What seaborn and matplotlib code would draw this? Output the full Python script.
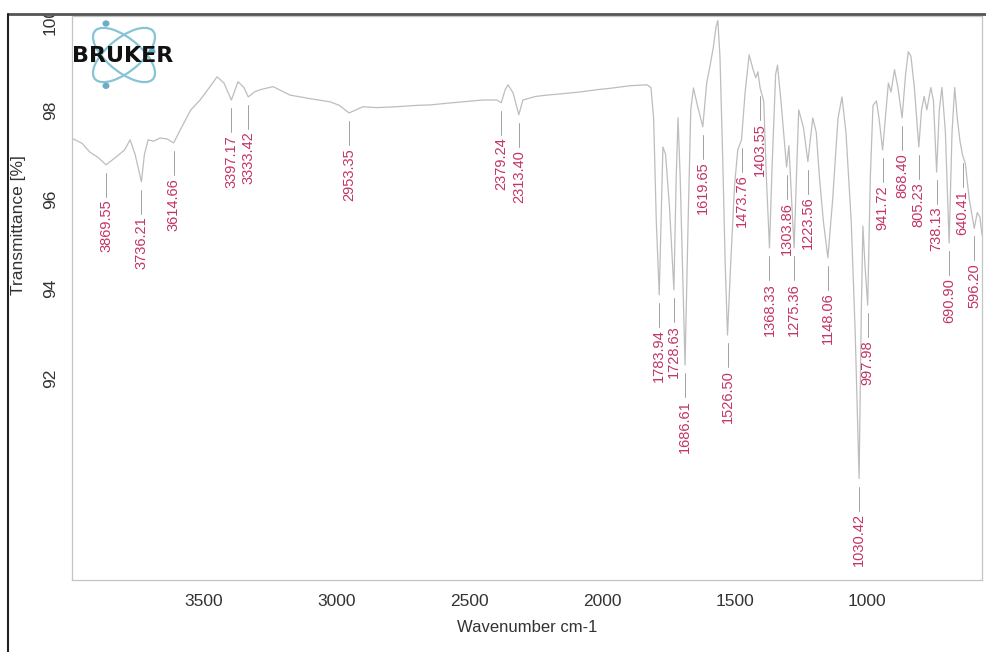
import numpy as np
import matplotlib
matplotlib.use("Agg")
import matplotlib.pyplot as plt
from matplotlib.patches import Ellipse, Rectangle, Circle
from matplotlib.lines import Line2D
import seaborn as sns

LINE_COLOUR = '#bdbdbd'
PEAK_COLOUR = '#c23468'
TEXT_COLOUR = '#333333'

# spectrum points (cm-1, % T)
wavenumber = [
    4000, 3960, 3930, 3903, 3869.55, 3835, 3800, 3779, 3760, 3736.21, 3725, 3711,
    3690, 3666, 3640, 3614.66, 3590, 3550, 3515, 3480, 3451, 3425, 3397.17, 3372,
    3350, 3333.42, 3310, 3289, 3240, 3176, 3100, 3025, 2990, 2953.35, 2920, 2901,
    2850, 2773, 2700, 2648, 2580, 2524, 2450, 2396, 2379.24, 2365, 2354, 2335,
    2313.40, 2298, 2250, 2207, 2150, 2083, 2020, 1958, 1894, 1830, 1815, 1805,
    1795, 1783.94, 1775, 1770, 1760, 1745, 1728.63, 1720, 1713, 1705, 1686.61, 1675,
    1665, 1655, 1640, 1619.65, 1605, 1595, 1580, 1570, 1563, 1555, 1545, 1535,
    1526.50, 1515, 1500, 1488, 1473.76, 1460, 1445, 1430, 1420, 1412, 1403.55, 1390,
    1380, 1368.33, 1358, 1345, 1338, 1325, 1303.86, 1295, 1285, 1275.36, 1265, 1258,
    1240, 1223.56, 1205, 1192, 1180, 1165, 1148.06, 1130, 1110, 1095, 1080, 1060,
    1045, 1030.42, 1022, 1016, 1008, 997.98, 988, 978, 965, 955, 941.72, 930,
    920, 910, 897, 884, 868.40, 855, 845, 835, 822, 805.23, 795, 785,
    775, 760, 750, 738.13, 728, 718, 705, 690.90, 680, 670, 660, 650,
    640.41, 630, 615, 596.20, 585, 575, 567,
]
transmittance = [
    97.37, 97.25, 97.05, 96.95, 96.77, 96.93, 97.1, 97.33, 97.0, 96.39, 97.0, 97.33,
    97.3, 97.37, 97.35, 97.26, 97.55, 98.0, 98.22, 98.5, 98.74, 98.6, 98.22, 98.63,
    98.5, 98.29, 98.4, 98.45, 98.52, 98.33, 98.25, 98.18, 98.1, 97.93, 98.02, 98.07,
    98.05, 98.07, 98.1, 98.11, 98.15, 98.18, 98.22, 98.22, 98.16, 98.45, 98.56, 98.38,
    97.89, 98.22, 98.3, 98.33, 98.36, 98.4, 98.45, 98.49, 98.54, 98.56, 98.5, 97.8,
    95.5, 93.86, 96.0, 97.17, 97.0, 95.8, 93.97, 96.5, 97.82, 96.5, 92.29, 95.5,
    98.0, 98.49, 98.1, 97.62, 98.6, 98.9, 99.4, 99.85, 100.0, 99.2, 97.0, 94.5,
    92.96, 94.5, 96.3, 97.1, 97.33, 98.4, 99.23, 98.9, 98.72, 98.85, 98.49, 98.2,
    96.5, 94.91, 96.8, 98.8, 99.0, 98.2, 96.72, 97.2, 96.0, 94.91, 96.8, 98.0,
    97.6, 96.84, 97.82, 97.5, 96.5, 95.5, 94.69, 96.0, 97.8, 98.29, 97.5, 95.5,
    93.0, 89.75, 93.5, 95.4, 94.5, 93.63, 96.5, 98.1, 98.2, 97.8, 97.1, 97.9,
    98.6, 98.4, 98.9, 98.5, 97.82, 98.8, 99.3, 99.2, 98.5, 97.17, 98.0, 98.3,
    98.0, 98.5, 98.2, 96.61, 98.0, 98.5, 97.5, 95.02, 97.5, 98.5, 97.8, 97.3,
    96.99, 96.8, 96.0, 95.35, 95.7, 95.6, 95.2,
]

peak_wn = [3869.55, 3736.21, 3614.66, 3397.17, 3333.42, 2953.35, 2379.24, 2313.40,
           1783.94, 1728.63, 1686.61, 1619.65, 1526.50, 1473.76, 1403.55, 1368.33,
           1303.86, 1275.36, 1223.56, 1148.06, 1030.42, 997.98, 941.72, 868.40,
           805.23, 738.13, 690.90, 640.41, 596.20]

x_ticks = [3500, 3000, 2500, 2000, 1500, 1000]
y_ticks = [92, 94, 96, 98, 100]

sns.set_theme(style="white")
plt.rcParams['font.family'] = ['Liberation Sans', 'DejaVu Sans']

W, H = 986, 652
fig = plt.figure(figsize=(W / 100, H / 100), dpi=100)
ax = fig.add_axes([72 / W, 72 / H, 910 / W, 564 / H])

sns.lineplot(x=wavenumber, y=transmittance, ax=ax, color=LINE_COLOUR,
             linewidth=0.9, estimator=None, sort=False)

ax.set_xlim(3998, 567)
ax.set_ylim(87.48, 100.1)

# peak labels hang below each minimum
wn_arr = np.array(wavenumber)[::-1]
tr_arr = np.array(transmittance)[::-1]
for wn in peak_wn:
    t = np.interp(wn, wn_arr, tr_arr)
    ax.plot([wn, wn], [t - 0.18, t - 0.72], color='#a0a0a0', lw=0.7)
    ax.text(wn, t - 0.78, f'{wn:.2f}', rotation=90, ha='center', va='top',
            fontsize=10.5, color=PEAK_COLOUR)

ax.set_xticks(x_ticks)
ax.set_yticks(y_ticks)
ax.set_yticklabels([str(v) for v in y_ticks], rotation=90, va='center')
ax.tick_params(axis='both', direction='out', length=6, width=0.8,
               color='#999999', labelsize=12.5, labelcolor=TEXT_COLOUR)
ax.tick_params(axis='x', pad=4)
ax.tick_params(axis='y', pad=4)
for side in ['left', 'bottom', 'top', 'right']:
    ax.spines[side].set_color('#c4c4c4')
    ax.spines[side].set_linewidth(0.9)

ax.set_xlabel('Wavenumber cm-1', fontsize=12, color=TEXT_COLOUR, labelpad=8)
ax.set_ylabel('Transmittance [%]', fontsize=12.5, color=TEXT_COLOUR)
ax.yaxis.set_label_coords(-0.051, 0.63)
ax.grid(False)

# Bruker logo
logo = fig.add_axes([84 / W, (H - 90) / H, 80 / W, 70 / H])
logo.set_xlim(-1, 1)
logo.set_ylim(-1, 1)
logo.axis('off')
for ang in (45, -45):
    logo.add_patch(Ellipse((0, 0), 2.0, 0.9, angle=ang, fill=False,
                           edgecolor='#86c4d6', lw=1.6))
for px, py in [(-0.45, 0.9), (-0.45, -0.88), (0.7, 0.1)]:
    logo.add_patch(Circle((px, py), 0.07, color='#6aaec4'))
fig.text(123 / W, 1 - 56 / H, 'BRUKER', ha='center', va='center',
         fontsize=16, fontweight='bold', color='#111111', family='DejaVu Sans')

# outer frame of the scanned page
fig.add_artist(Rectangle((0, 1 - 13 / H), 1, 13 / H, transform=fig.transFigure,
                         color='white', zorder=10))
fig.add_artist(Line2D([8 / W, 1], [1 - 14 / H, 1 - 14 / H], transform=fig.transFigure,
                      color='#555555', lw=2.0, zorder=11))
fig.add_artist(Line2D([8 / W, 8 / W], [0, 1 - 14 / H], transform=fig.transFigure,
                      color='#222222', lw=1.5, zorder=11))

fig.savefig('out.png', dpi=100, facecolor='white')
